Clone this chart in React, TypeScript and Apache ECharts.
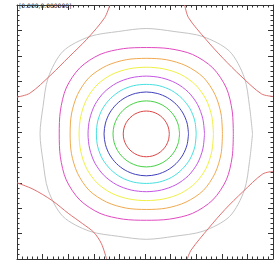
import React, { useEffect, useRef } from "react";
import * as echarts from "echarts";

// Contour loops: radius (data units) sampled at 0°, 15°, 30°, 45° (8-fold symmetric)
const loopNames = ["c1", "c2", "c3", "c4", "c5", "c6", "c7", "c8", "c9"];
const loopColors = ["#dc4646", "#46d246", "#4040bc", "#46e0e0", "#c456e4", "#f0f046", "#f0aa50", "#e04cc0", "#c4c4c4"];
const loopRadii = [
  [0.36, 0.36, 0.36, 0.36],
  [0.52, 0.52, 0.52, 0.52],
  [0.66, 0.66, 0.66, 0.66],
  [0.78, 0.785, 0.79, 0.79],
  [0.91, 0.915, 0.925, 0.93],
  [1.05, 1.06, 1.08, 1.09],
  [1.19, 1.21, 1.24, 1.26],
  [1.36, 1.39, 1.445, 1.47],
  [1.66, 1.67, 1.77, 1.84],
];
const sampleAngles = [0, 15, 30, 45];
const center = [0.02, -0.03];

// Corner branches (x, y)
const cornerTL = [[-2.0, 0.55], [-1.8, 0.61], [-1.47, 0.9], [-1.19, 1.18], [-0.91, 1.46], [-0.63, 1.8], [-0.55, 2.0]];
const cornerTR = [[0.62, 2.0], [0.68, 1.8], [0.95, 1.46], [1.22, 1.16], [1.5, 0.88], [1.82, 0.6], [2.0, 0.56]];
const cornerBR = [[0.66, -2.0], [0.72, -1.86], [0.99, -1.52], [1.25, -1.22], [1.53, -0.94], [1.84, -0.66], [2.0, -0.62]];
const cornerBL = [[-2.0, -0.8], [-1.75, -0.9], [-1.45, -1.08], [-1.2, -1.28], [-0.98, -1.44], [-0.8, -1.58], [-0.68, -1.76], [-0.6, -2.0]];
const cornerColor = "#e07070";

const axisMin = -2;
const axisMax = 2;
const axisInterval = 0.4;
const cornerLabel = "[0.000,0.000000]";

function loopPoints(radii: number[]) {
  const pts: number[][] = [];
  for (let k = 0; k <= 24; k++) {
    const deg = k * 15;
    const a = deg % 90;
    const idx = a <= 45 ? sampleAngles.indexOf(a) : sampleAngles.indexOf(90 - a);
    const r = radii[idx];
    const t = (deg * Math.PI) / 180;
    pts.push([center[0] + r * Math.cos(t), center[1] + r * Math.sin(t)]);
  }
  return pts;
}

export default function App() {
  const ref = useRef<HTMLDivElement>(null);
  useEffect(() => {
    if (!ref.current) return;
    const chart = echarts.init(ref.current, null, { renderer: "svg" });
    const axisCommon = {
      type: "value" as const,
      min: axisMin,
      max: axisMax,
      interval: axisInterval,
      axisLine: { show: true, onZero: false, lineStyle: { color: "#333", width: 1 } },
      axisTick: { show: true, inside: true, length: 5, lineStyle: { color: "#333", width: 1 } },
      minorTick: { show: true, splitNumber: 5, length: 2.5, lineStyle: { color: "#333", width: 1 } },
      axisLabel: { show: false },
      splitLine: { show: false },
    };
    const series: any[] = loopRadii.map((r, i) => ({
      name: loopNames[i],
      type: "line",
      data: loopPoints(r),
      showSymbol: false,
      smooth: 0.3,
      lineStyle: { color: loopColors[i], width: 1 },
      silent: true,
    }));
    [cornerTL, cornerTR, cornerBR, cornerBL].forEach((c, i) => {
      series.push({
        name: "corner" + i,
        type: "line",
        data: c,
        showSymbol: false,
        smooth: 0.3,
        lineStyle: { color: cornerColor, width: 1 },
        silent: true,
      });
    });
    chart.setOption({
      animation: false,
      backgroundColor: "#fff",
      grid: { left: 17, top: 5, width: 256, height: 254, containLabel: false },
      xAxis: [
        { ...axisCommon, position: "bottom" },
        { ...axisCommon, position: "top" },
      ],
      yAxis: [
        { ...axisCommon, position: "left" },
        { ...axisCommon, position: "right" },
      ],
      graphic: [
        {
          type: "text",
          left: 19,
          top: 2,
          style: { text: cornerLabel, fontSize: 6, fill: "#222", fontFamily: "DejaVu Sans" },
        },
      ],
      series,
    });
    return () => chart.dispose();
  }, []);
  return <div ref={ref} style={{ position: "fixed", left: 0, top: 0, width: 275, height: 262 }} />;
}
